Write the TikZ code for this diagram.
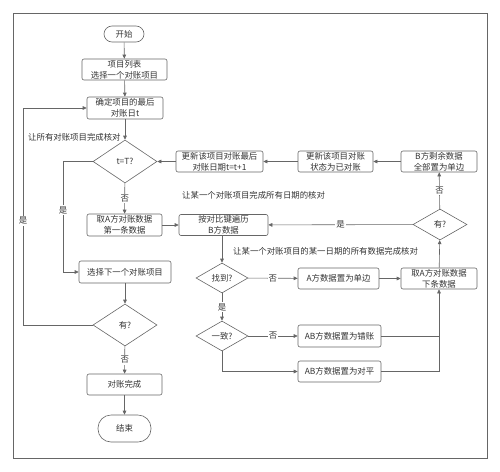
\documentclass[tikz,border=0pt]{standalone}
\usepackage{fontspec}
\setmainfont{Noto Sans CJK SC}
\usetikzlibrary{shapes.geometric,arrows.meta}
\definecolor{ln}{HTML}{666666}
\definecolor{tx}{HTML}{333333}
\tikzset{
  every node/.style={font=\fontsize{8.4}{11}\selectfont, text=tx},
  proc/.style={draw=ln, line width=0.6pt, rounded corners=2pt, inner sep=0pt, align=center},
  term/.style={draw=ln, line width=0.6pt, rounded corners=8pt, inner sep=0pt, align=center},
  dec/.style={draw=ln, line width=0.6pt, diamond, inner sep=0pt, align=center},
  arr/.style={draw=ln, line width=0.6pt, -{Triangle[length=4pt,width=3.6pt]}},
  ln/.style={draw=ln, line width=0.6pt},
  lab/.style={fill=white, inner sep=1pt},
  note/.style={anchor=west, inner sep=0pt},
}
\begin{document}
\begin{tikzpicture}[x=1pt,y=-1pt]
\useasboundingbox (0,0) rectangle (500,471);
\draw[ln] (13,13) rectangle (487,458);
% nodes
\node[term, minimum width=40pt, minimum height=16pt] (start) at (124,34) {开始};
\node[proc, minimum width=85pt, minimum height=21pt] (b1) at (124.5,69.5) {项目列表\\选择一个对账项目};
\node[proc, minimum width=76pt, minimum height=22pt] (b2) at (125,108) {确定项目的最后\\对账日t};
\node[dec, minimum width=64pt, minimum height=43pt] (d1) at (125,161.5) {t=T?};
\node[proc, minimum width=75pt, minimum height=22pt] (b3) at (124.5,225) {取A方对账数据\\第一条数据};
\node[proc, minimum width=89pt, minimum height=21pt] (b4) at (223.5,225) {按对比键遍历\\B方数据};
\node[proc, minimum width=87pt, minimum height=21pt] (b5) at (219.5,161.5) {更新该项目对账最后\\对账日期t=t+1};
\node[proc, minimum width=75pt, minimum height=21pt] (b6) at (335.5,161.5) {更新该项目对账\\状态为已对账};
\node[proc, minimum width=76pt, minimum height=21pt] (b7) at (439,161.5) {B方剩余数据\\全部置为单边};
\node[dec, minimum width=54pt, minimum height=31pt] (d2) at (440,224.5) {有?};
\node[dec, minimum width=52pt, minimum height=30pt] (d3) at (222,278) {找到?};
\node[proc, minimum width=81pt, minimum height=21pt] (b8) at (338.5,278.5) {A方数据置为单边};
\node[proc, minimum width=76pt, minimum height=21pt] (b9) at (439,278.5) {取A方对账数据\\下条数据};
\node[dec, minimum width=52pt, minimum height=30pt] (d4) at (222,336) {一致?};
\node[proc, minimum width=83pt, minimum height=22pt] (b10) at (339.5,336) {AB方数据置为错账};
\node[proc, minimum width=83pt, minimum height=21pt] (b11) at (339.5,371.5) {AB方数据置为对平};
\node[proc, minimum width=92pt, minimum height=22pt] (b12) at (125,272) {选择下一个对账项目};
\node[dec, minimum width=64pt, minimum height=42pt] (d5) at (125,325) {有?};
\node[proc, minimum width=75pt, minimum height=21pt] (b13) at (124.5,384.5) {对账完成};
\node[term, rounded corners=13pt, minimum width=53pt, minimum height=27pt] (end) at (124.5,428.5) {结束};
% notes
\node[note] (n1) at (28,137) {让所有对账项目完成核对};
\node[note] (n2) at (182,195) {让某一个对账项目完成所有日期的核对};
\node[note] (n3) at (233,251) {让某一个对账项目的某一日期的所有数据完成核对};
% coordinates
\coordinate (c1) at (23,325);
\coordinate (c2) at (23,108);
\coordinate (c3) at (63,161.5);
\coordinate (c4) at (63,272);
\coordinate (c5) at (222,371.5);
\coordinate (c6) at (439,336);
\coordinate (c7) at (439,371.5);
% connectors
\draw[arr] (start) -- (b1);
\draw[arr] (b1) -- (b2);
\draw[arr] (b2) -- (d1);
\draw[arr] (d1) -- node[lab] (l1) {否} (b3);
\draw[arr] (b3) -- (b4);
\draw[arr] (b4.south -| d3) -- (d3);
\draw[arr] (d3) -- node[lab] (l2) {否} (b8);
\draw[arr] (b8) -- (b9);
\draw[arr] (d3) -- node[lab] (l3) {是} (d4);
\draw[arr] (d4) -- node[lab] (l4) {否} (b10);
\draw[arr] (d4.south) -- (c5) -- (b11);
\draw[ln] (b10) -- (c6);
\draw[arr] (b11) -- (c7) -- (b9.south);
\draw[arr] (b9) -- (d2);
\draw[arr] (d2) -- node[lab] (l5) {否} (b7);
\draw[arr] (d2) -- node[lab, pos=0.5] (l6) {是} (b4);
\draw[arr] (b7) -- (b6);
\draw[arr] (b6) -- (b5);
\draw[arr] (b5) -- (d1);
\draw[arr] (d1) -- (c3) -- node[lab, pos=0.44] (l7) {是} (c4) -- (b12);
\draw[arr] (b12) -- (d5);
\draw[arr] (d5) -- (c1) -- node[lab, pos=0.48] (l8) {是} (c2) -- (b2);
\draw[arr] (d5) -- node[lab] (l9) {否} (b13);
\draw[arr] (b13) -- (end);
\end{tikzpicture}
\end{document}
